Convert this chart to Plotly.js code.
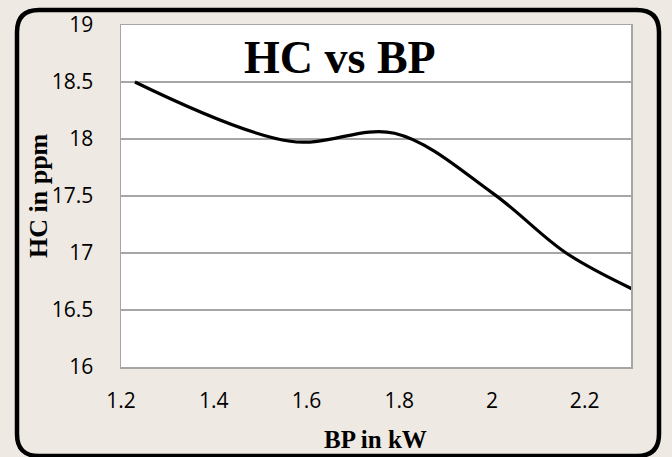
<!DOCTYPE html>
<html>
<head>
<meta charset="utf-8">
<script src="https://cdn.plot.ly/plotly-3.0.1.min.js"></script>
<style>
html,body{margin:0;padding:0;background:#efe9e3;}
#chart{width:672px;height:457px;}
</style>
</head>
<body>
<div id="chart"></div>
<script>
// Data
const bpValues = [1.23, 1.565, 1.79, 2.0, 2.16, 2.305];
const hcValues = [18.5, 17.98, 18.05, 17.53, 17.0, 16.68];
const xTickValues = [1.2, 1.4, 1.6, 1.8, 2.0, 2.2];
const xTickLabels = ['1.2', '1.4', '1.6', '1.8', '2', '2.2'];
const yTickValues = [16, 16.5, 17, 17.5, 18, 18.5, 19];
const yTickLabels = ['16', '16.5', '17', '17.5', '18', '18.5', '19'];
const chartTitle = 'HC vs BP';
const xTitle = 'BP in kW';
const yTitle = 'HC in ppm';

// plot area geometry (pixels)
const W = 672, H = 457;
const L = 121, R = 41, T = 25, B = 90;
const pw = W - L - R, ph = H - T - B;
function px(x){ return (x - L) / pw; }
function py(y){ return (H - B - y) / ph; }

// rounded frame path in paper coordinates
function framePath(x0, y0, x1, y1, r){
  const P = (x, y) => px(x).toFixed(5) + ',' + py(y).toFixed(5);
  return 'M ' + P(x0 + r, y0) +
    ' L ' + P(x1 - r, y0) +
    ' Q ' + P(x1, y0) + ' ' + P(x1, y0 + r) +
    ' L ' + P(x1, y1 - r) +
    ' Q ' + P(x1, y1) + ' ' + P(x1 - r, y1) +
    ' L ' + P(x0 + r, y1) +
    ' Q ' + P(x0, y1) + ' ' + P(x0, y1 - r) +
    ' L ' + P(x0, y0 + r) +
    ' Q ' + P(x0, y0) + ' ' + P(x0 + r, y0) + ' Z';
}

const tickFont = {family: '"Open Sans", sans-serif', size: 21, color: '#000'};
const serifBold = '"Liberation Serif", "Times New Roman", serif';

const trace = {
  x: bpValues,
  y: hcValues,
  type: 'scatter',
  mode: 'lines',
  line: {color: '#000', width: 3.2, shape: 'spline', smoothing: 1},
  cliponaxis: false,
  hoverinfo: 'skip'
};

const layout = {
  width: W, height: H,
  margin: {l: L, r: R, t: T, b: B, pad: 0},
  paper_bgcolor: '#efe9e3',
  plot_bgcolor: '#ffffff',
  showlegend: false,
  xaxis: {
    range: [1.2, 2.3],
    tickvals: xTickValues,
    ticktext: xTickLabels,
    showgrid: false,
    zeroline: false,
    showline: true, mirror: true, linecolor: '#a6a6a6', linewidth: 1.5,
    ticks: '',
    ticklabelstandoff: 14,
    tickfont: tickFont
  },
  yaxis: {
    range: [16, 19],
    tickvals: yTickValues,
    ticktext: yTickLabels,
    showgrid: true, gridcolor: '#a6a6a6', gridwidth: 1.5,
    zeroline: false,
    showline: true, mirror: true, linecolor: '#a6a6a6', linewidth: 1.5,
    ticks: '',
    ticklabelstandoff: 22,
    tickfont: tickFont
  },
  annotations: [
    {text: '<b>' + chartTitle + '</b>', xref: 'paper', yref: 'paper',
     x: px(340), y: py(57), xanchor: 'center', yanchor: 'middle', showarrow: false,
     font: {family: serifBold, size: 46, color: '#000'}},
    {text: '<b>' + xTitle + '</b>', xref: 'paper', yref: 'paper',
     x: px(375), y: py(439), xanchor: 'center', yanchor: 'middle', showarrow: false,
     font: {family: serifBold, size: 25, color: '#000'}},
    {text: '<b>' + yTitle + '</b>', xref: 'paper', yref: 'paper',
     x: px(38), y: py(196), xanchor: 'center', yanchor: 'middle', showarrow: false,
     textangle: -90,
     font: {family: serifBold, size: 26, color: '#000'}}
  ],
  shapes: [
    {type: 'path', xref: 'paper', yref: 'paper', layer: 'below',
     path: framePath(17, 10, 659, 456, 22),
     line: {color: '#000', width: 4.5}, fillcolor: 'rgba(0,0,0,0)'}
  ]
};

Plotly.newPlot('chart', [trace], layout, {staticPlot: true, displayModeBar: false});
</script>
</body>
</html>
